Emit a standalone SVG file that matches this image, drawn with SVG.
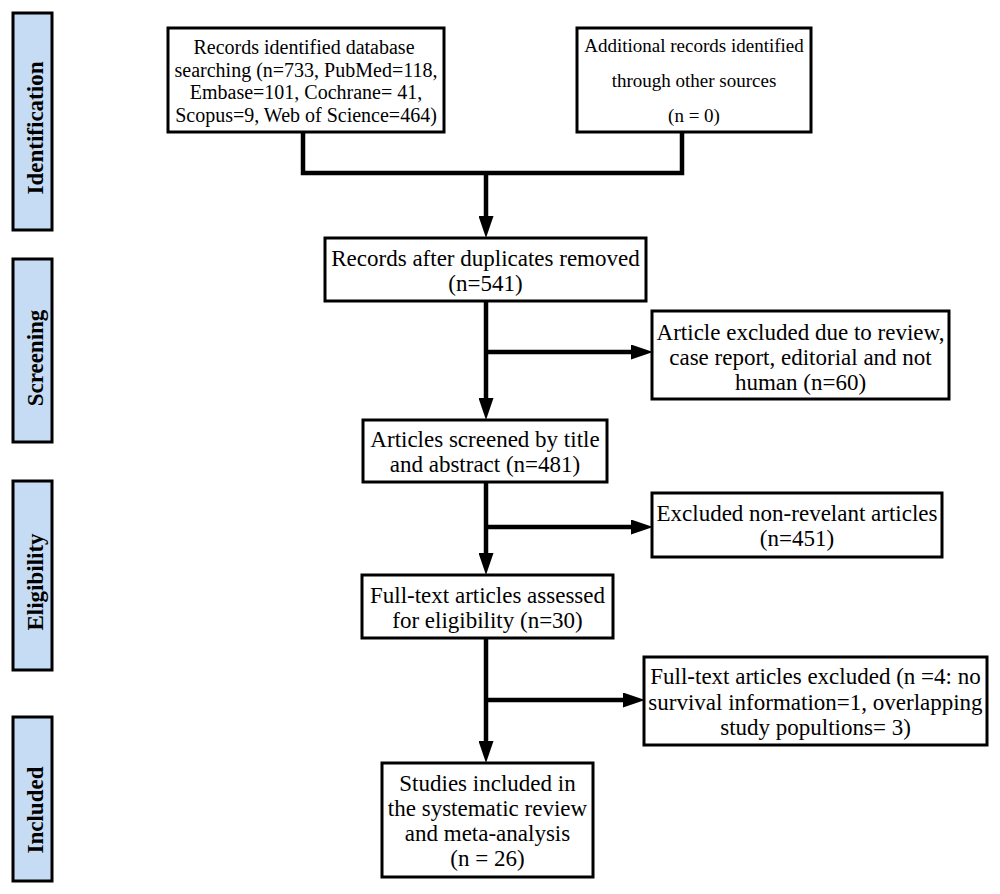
<svg xmlns="http://www.w3.org/2000/svg" width="1000" height="894" viewBox="0 0 1000 894">
<style>
.bg{fill:#ffffff}
.box{fill:#ffffff;stroke:#000;stroke-width:3}
.side{fill:#c6dcf5;stroke:#000;stroke-width:3}
.t{font-family:"Liberation Serif","Times New Roman",serif;font-size:23px;fill:#000;text-anchor:middle}
.s{font-size:20px}
.s2{font-size:19px}
.lab{font-family:"Liberation Serif","Times New Roman",serif;font-size:23px;font-weight:bold;fill:#000;text-anchor:middle}
.c{fill:none;stroke:#000;stroke-width:4.5}
</style>
<defs>
<marker id="ah" markerUnits="userSpaceOnUse" viewBox="0 0 22 15" markerWidth="22" markerHeight="15" refX="0" refY="7.5" orient="auto">
<path d="M0,0 L22,7.5 L0,15 z" fill="#000"/>
</marker>
</defs>
<rect class="bg" x="0" y="0" width="1000" height="894"/>

<g id="side-identification"><rect class="side" x="13" y="13" width="39" height="217"/><text class="lab" transform="translate(43,128) rotate(-90)">Identification</text></g>
<g id="side-screening"><rect class="side" x="13" y="259" width="39" height="183"/><text class="lab" transform="translate(43,358) rotate(-90)">Screening</text></g>
<g id="side-eligibility"><rect class="side" x="13" y="481" width="39" height="189"/><text class="lab" transform="translate(43,582) rotate(-90)">Eligibility</text></g>
<g id="side-included"><rect class="side" x="13" y="717" width="39" height="164"/><text class="lab" transform="translate(43,810) rotate(-90)">Included</text></g>

<g id="connectors">
<path class="c" d="M303,132 V173 H682 V132"/>
<path class="c" d="M486,173 V216" marker-end="url(#ah)"/>
<path class="c" d="M486,301 V398" marker-end="url(#ah)"/>
<path class="c" d="M486,352 H631" marker-end="url(#ah)"/>
<path class="c" d="M486,482 V553" marker-end="url(#ah)"/>
<path class="c" d="M486,527 H631" marker-end="url(#ah)"/>
<path class="c" d="M486,638 V741" marker-end="url(#ah)"/>
<path class="c" d="M486,700 H623" marker-end="url(#ah)"/>
</g>

<g id="n-records-db"><rect class="box" x="168" y="28" width="276" height="104"/>
<text class="t s" x="304" y="54">Records identified database</text>
<text class="t s" x="306" y="76.5">searching (n=733, PubMed=118,</text>
<text class="t s" x="306" y="99">Embase=101, Cochrane= 41,</text>
<text class="t s" x="306" y="121.5">Scopus=9, Web of Science=464)</text></g>

<g id="n-additional"><rect class="box" x="577" y="28" width="234" height="104"/>
<text class="t s2" x="694" y="52">Additional records identified</text>
<text class="t s2" x="694" y="87">through other sources</text>
<text class="t s2" x="694" y="122">(n = 0)</text></g>

<g id="n-after-dup"><rect class="box" x="325" y="238" width="321" height="63"/>
<text class="t" x="485.5" y="266">Records after duplicates removed</text>
<text class="t" x="485.5" y="291">(n=541)</text></g>

<g id="n-excl-review"><rect class="box" x="652" y="311" width="297" height="88"/>
<text class="t" x="800.5" y="340">Article excluded due to review,</text>
<text class="t" x="800.5" y="365">case report, editorial and not</text>
<text class="t" x="800.5" y="390">human (n=60)</text></g>

<g id="n-screened"><rect class="box" x="363" y="420" width="244" height="62"/>
<text class="t" x="485" y="447">Articles screened by title</text>
<text class="t" x="485" y="472">and abstract (n=481)</text></g>

<g id="n-excl-nonrel"><rect class="box" x="652" y="493" width="290" height="64"/>
<text class="t" x="797" y="521">Excluded non-revelant articles</text>
<text class="t" x="797" y="546">(n=451)</text></g>

<g id="n-fulltext"><rect class="box" x="362" y="575" width="251" height="63"/>
<text class="t" x="487.5" y="603">Full-text articles assessed</text>
<text class="t" x="487.5" y="628">for eligibility (n=30)</text></g>

<g id="n-excl-fulltext"><rect class="box" x="644" y="657" width="343" height="88"/>
<text class="t" x="815.5" y="684">Full-text articles excluded (n =4: no</text>
<text class="t" x="815.5" y="710">survival information=1, overlapping</text>
<text class="t" x="815.5" y="735">study popultions= 3)</text></g>

<g id="n-included"><rect class="box" x="382" y="763" width="211" height="114"/>
<text class="t" x="487.5" y="791">Studies included in</text>
<text class="t" x="487.5" y="816">the systematic review</text>
<text class="t" x="487.5" y="841">and meta-analysis</text>
<text class="t" x="487.5" y="866">(n = 26)</text></g>
</svg>
